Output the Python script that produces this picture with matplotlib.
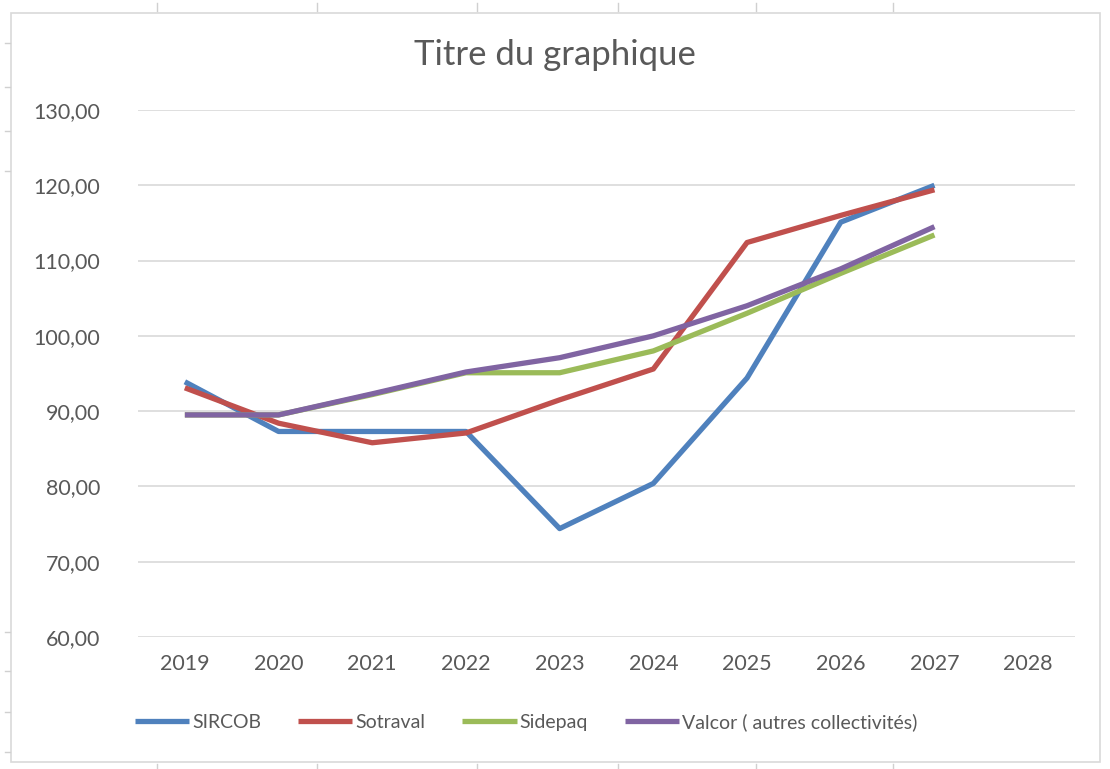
import matplotlib
matplotlib.use("Agg")
import matplotlib.pyplot as plt
from matplotlib.lines import Line2D
from matplotlib.patches import Rectangle

plt.rcParams['font.family'] = ['Lato', 'DejaVu Sans']

# data
years = ['2019', '2020', '2021', '2022', '2023', '2024', '2025', '2026', '2027', '2028']
sircob = [93.9, 87.3, 87.3, 87.3, 74.4, 80.4, 94.4, 115.1, 120.0]
sotraval = [93.1, 88.4, 85.8, 87.1, 91.5, 95.6, 112.4, 116.0, 119.4]
sidepaq = [89.5, 89.5, 92.2, 95.1, 95.1, 98.0, 103.0, 108.3, 113.4]
valcor = [89.5, 89.5, 92.3, 95.2, 97.1, 100.0, 104.0, 108.9, 114.5]

names = ['SIRCOB', 'Sotraval', 'Sidepaq', 'Valcor ( autres collectivités)']
colors = ['#4F81BD', '#C0504D', '#9BBB59', '#8064A2']
grey = '#595959'

fig = plt.figure(figsize=(11.1, 7.69), dpi=100)

# chart frame
fig.patches.append(Rectangle((11 / 1110, 1 - 762 / 769), 1089 / 1110, 749 / 769,
                             transform=fig.transFigure, fill=False,
                             edgecolor='#d9d9d9', linewidth=1.2))
# spreadsheet cell marks around the frame
for x in [157, 317, 477, 618, 756, 893]:
    fig.add_artist(Line2D([x / 1110] * 2, [1 - 3 / 769, 1 - 11 / 769], color='#d0d0d0', lw=1))
    fig.add_artist(Line2D([x / 1110] * 2, [1 - 764 / 769, 1 - 769 / 769], color='#d0d0d0', lw=1))
for y in [43, 87, 131, 171, 632, 671, 712, 752]:
    fig.add_artist(Line2D([5 / 1110, 10 / 1110], [1 - y / 769] * 2, color='#d0d0d0', lw=1))

ax = fig.add_axes([138 / 1110, 1 - 637 / 769, 937 / 1110, 527 / 769])

xs = list(range(len(years)))
for vals, name, c in zip([sircob, sotraval, sidepaq, valcor], names, colors):
    ax.plot(xs[:len(vals)], vals, color=c, lw=3.8, label=name, solid_capstyle='butt')

ax.set_xlim(-0.5, len(years) - 0.5)
ax.set_ylim(60, 130)
ax.set_yticks(range(60, 131, 10))
ax.set_yticklabels([f'{v},00' for v in range(60, 131, 10)])
ax.set_xticks(xs)
ax.set_xticklabels(years)
ax.grid(axis='y', color='#d9d9d9', lw=1.2)
ax.set_axisbelow(True)
for s in ax.spines.values():
    s.set_visible(False)
ax.tick_params(length=0, colors=grey, labelsize=15.5)
ax.tick_params(axis='y', pad=27)
ax.tick_params(axis='x', pad=12)

fig.text(0.5, 1 - 55 / 769, 'Titre du graphique', ha='center', va='center',
         fontsize=25, color=grey)

fig.legend(loc='center', bbox_to_anchor=(0.474, 1 - 722 / 769), ncol=4, frameon=False,
           fontsize=14, labelcolor=grey, handlelength=2.8, handletextpad=0.15,
           columnspacing=1.9)

fig.savefig('out.png', dpi=100, facecolor='white')
